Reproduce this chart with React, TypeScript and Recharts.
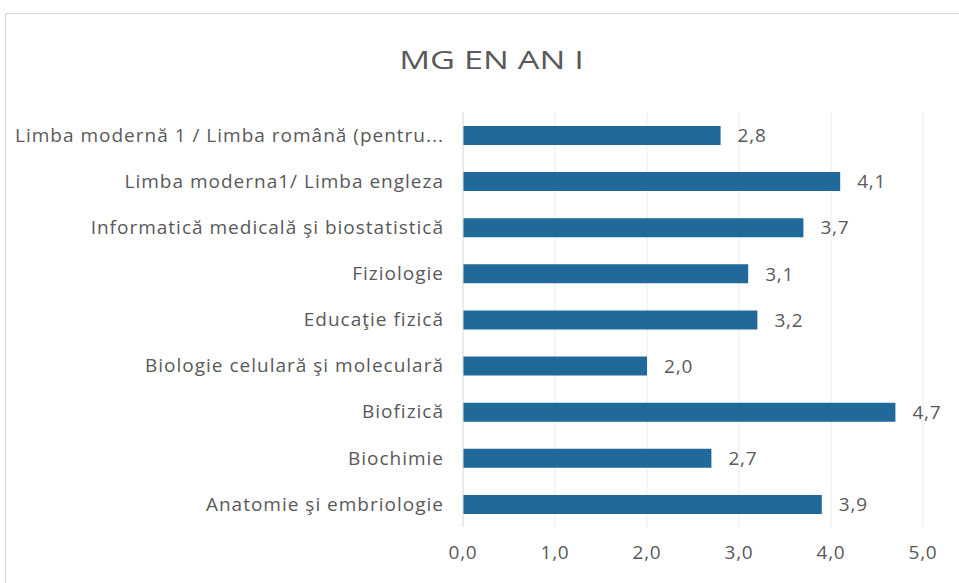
import React from "react";
import { BarChart, Bar, XAxis, YAxis, CartesianGrid, LabelList } from "recharts";

const subjects = [
  "Limba modernă 1 / Limba română  (pentru...",
  "Limba moderna1/ Limba engleza",
  "Informatică medicală şi biostatistică",
  "Fiziologie",
  "Educaţie fizică ",
  "Biologie celulară şi moleculară",
  "Biofizică",
  "Biochimie",
  "Anatomie şi embriologie",
];
const grades = [2.8, 4.1, 3.7, 3.1, 3.2, 2.0, 4.7, 2.7, 3.9];
const xTicks = [0, 1, 2, 3, 4, 5];

const data = subjects.map((name, i) => ({ name, value: grades[i] }));

const fmt = (v: any) => Number(v).toFixed(1).replace(".", ",");
const FONT = "'Open Sans', sans-serif";
const GREY = "#595959";

const App: React.FC = () => {
  return (
    <div style={{ position: "absolute", left: 0, top: 0, width: 959, height: 583, background: "#fff", fontFamily: FONT }}>
      <div
        style={{
          position: "absolute",
          left: 5,
          top: 13,
          width: 960,
          height: 580,
          border: "1px solid #d9d9d9",
          boxSizing: "border-box",
        }}
      />
      <div
        style={{
          position: "absolute",
          top: 41,
          left: 12,
          width: 959,
          textAlign: "center",
          fontSize: 26,
          lineHeight: "36px",
          color: GREY,
          transform: "scaleX(1.32)",
        }}
      >
        MG EN AN I
      </div>
      <div style={{ position: "absolute", left: 0, top: 0 }}>
        <BarChart
          width={959}
          height={583}
          data={data}
          layout="vertical"
          margin={{ top: 112, right: 36, bottom: 26, left: 0 }}
        >
          <CartesianGrid horizontal={false} stroke="#ececec" />
          <XAxis
            type="number"
            domain={[0, 5]}
            ticks={xTicks}
            tickFormatter={fmt}
            axisLine={false}
            tickLine={false}
            tickMargin={13}
            tick={{ fill: GREY, fontSize: 19, fontFamily: FONT, letterSpacing: 0.8 }}
          />
          <YAxis
            type="category"
            dataKey="name"
            width={463}
            axisLine={{ stroke: "#e0e0e0" }}
            tickLine={false}
            tickMargin={13}
            interval={0}
            tick={{ fill: GREY, fontSize: 19, fontFamily: FONT, letterSpacing: 1 }}
          />
          <Bar dataKey="value" fill="#21699a" barSize={19} isAnimationActive={false}>
            <LabelList
              dataKey="value"
              position="right"
              offset={17}
              formatter={fmt}
              style={{ fill: GREY, fontSize: 19, fontFamily: FONT, letterSpacing: 0.8 }}
            />
          </Bar>
        </BarChart>
      </div>
    </div>
  );
};

export default App;
